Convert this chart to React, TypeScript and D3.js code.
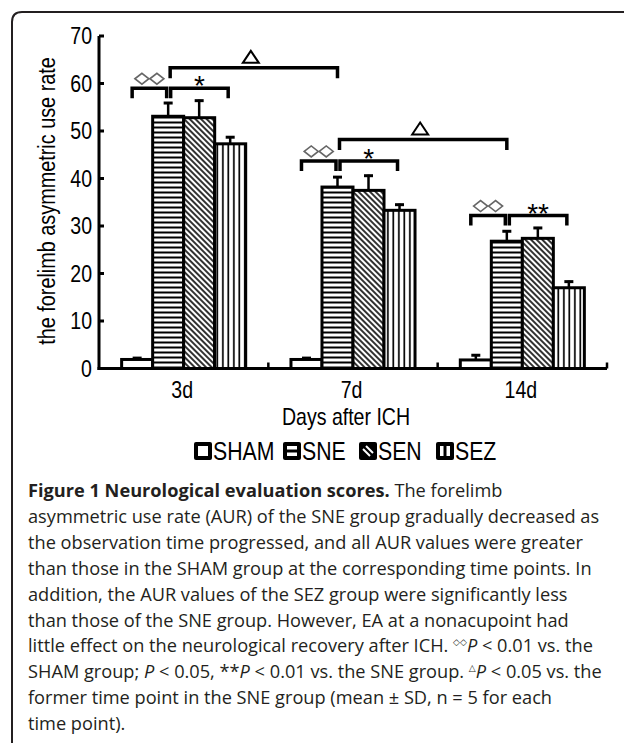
import React, { Component } from 'react';
import * as d3 from 'd3';

// days after ICH
const categories = ['3d', '7d', '14d'];
const groups = ['SHAM', 'SNE', 'SEN', 'SEZ'];

// mean values per group
const shamMean = [1.9, 1.9, 1.8];
const sneMean = [53.1, 38.2, 26.8];
const senMean = [52.8, 37.5, 27.4];
const sezMean = [47.3, 33.3, 17.0];

// SD (upper whiskers)
const shamSd = [0.5, 0.5, 1.2];
const sneSd = [3.0, 2.3, 2.3];
const senSd = [3.8, 3.3, 2.4];
const sezSd = [1.6, 1.4, 1.5];

const yTicks = [0, 10, 20, 30, 40, 50, 60, 70];

// significance brackets: category, level, mark
const diamondBrackets = [
  { cat: '3d', level: 59.0 },
  { cat: '7d', level: 43.7 },
  { cat: '14d', level: 32.2 },
];
const starBrackets = [
  { cat: '3d', level: 59.0, mark: '*' },
  { cat: '7d', level: 43.7, mark: '*' },
  { cat: '14d', level: 32.2, mark: '**' },
];
const deltaBrackets = [
  { from: '3d', to: '7d', level: 63.3 },
  { from: '7d', to: '14d', level: 48.2 },
];

const means = [shamMean, sneMean, senMean, sezMean];
const sds = [shamSd, sneSd, senSd, sezSd];
const fills = ['#fff', 'url(#pHoriz)', 'url(#pDiag)', 'url(#pVert)'];

const W = 624;
const H = 746;
const chartFont = '"Liberation Sans", Arial, sans-serif';
const capFont = '"Open Sans", "Noto Sans", sans-serif';

const x0 = d3.scaleBand().domain(categories).range([99, 607]);
const x1 = d3
  .scaleBand()
  .domain(groups)
  .range([0, x0.bandwidth()])
  .paddingInner(0)
  .paddingOuter(0.73);
const y = d3.scaleLinear().domain([0, 70]).range([368.5, 36]);

const cx = (cat, g) => x0(cat) + x1(g) + x1.bandwidth() / 2;

const bracketPath = (xa, xb, yy, leg) =>
  `M${xa},${yy + leg}V${yy}H${xb}V${yy + leg}`;

class Legend extends Component {
  render() {
    const xs = [194, 283, 359, 436];
    const s = 18;
    const top = 442;
    return (
      <g>
        {groups.map((g, i) => {
          const x = xs[i];
          return (
            <g key={g}>
              <rect x={x} y={top} width={s} height={s} rx={2} fill="#000" />
              {i === 0 && <rect x={x + 4} y={top + 4} width={s - 8} height={s - 8} fill="#fff" />}
              {i === 1 && (
                <g fill="#fff">
                  <rect x={x + 4} y={top + 4} width={s - 8} height={3.5} />
                  <rect x={x + 4} y={top + 10.5} width={s - 8} height={3.5} />
                </g>
              )}
              {i === 2 && (
                <g stroke="#fff" strokeWidth={2}>
                  <line x1={x + 4} y1={top + 7} x2={x + 11} y2={top + 14} />
                  <line x1={x + 7} y1={top + 4} x2={x + 14} y2={top + 11} />
                </g>
              )}
              {i === 3 && (
                <g fill="#fff">
                  <rect x={x + 4} y={top + 4} width={3.5} height={s - 8} />
                  <rect x={x + 10.5} y={top + 4} width={3.5} height={s - 8} />
                </g>
              )}
              <text
                transform={`translate(${x + s + 1},${top + s}) scale(0.85,1)`}
                fontSize={25}
                fontFamily={chartFont}
              >
                {g}
              </text>
            </g>
          );
        })}
      </g>
    );
  }
}

class Caption extends Component {
  render() {
    const top = 497;
    const lh = 25.9;
    const sup = { fontSize: 9, fontFamily: '"DejaVu Sans", sans-serif' };
    const lines = [
      <>
        <tspan fontWeight="bold">Figure 1 Neurological evaluation scores.</tspan> The forelimb
      </>,
      <>asymmetric use rate (AUR) of the SNE group gradually decreased as</>,
      <>the observation time progressed, and all AUR values were greater</>,
      <>than those in the SHAM group at the corresponding time points. In</>,
      <>addition, the AUR values of the SEZ group were significantly less</>,
      <>than those of the SNE group. However, EA at a nonacupoint had</>,
      <>
        little effect on the neurological recovery after ICH.{' '}
        <tspan {...sup} dy={-7}>◇◇</tspan>
        <tspan dy={7} fontStyle="italic">P</tspan> &lt; 0.01 vs. the
      </>,
      <>
        SHAM group; <tspan fontStyle="italic">P</tspan> &lt; 0.05, **<tspan fontStyle="italic">P</tspan> &lt; 0.01 vs. the SNE group.{' '}
        <tspan {...sup} dy={-7}>△</tspan>
        <tspan dy={7} fontStyle="italic">P</tspan> &lt; 0.05 vs. the
      </>,
      <>former time point in the SNE group (mean ± SD, n = 5 for each</>,
      <>time point).</>,
    ];
    return (
      <g fontFamily={capFont} fontSize={18.2} fill="#231f20">
        {lines.map((l, i) => (
          <text key={i} x={28} y={top + i * lh}>
            {l}
          </text>
        ))}
      </g>
    );
  }
}

export default class App extends Component {
  render() {
    const y0 = y(0);
    return (
      <svg
        width={W}
        height={H}
        viewBox={`0 0 ${W} ${H}`}
        style={{ position: 'absolute', left: 0, top: 0, background: '#fff' }}
      >
        <defs>
          <pattern id="pHoriz" patternUnits="userSpaceOnUse" width={10} height={5}>
            <rect width={10} height={5} fill="#fff" />
            <rect y={1.5} width={10} height={2} fill="#000" />
          </pattern>
          <pattern
            id="pDiag"
            patternUnits="userSpaceOnUse"
            width={10}
            height={4}
            patternTransform="rotate(45)"
          >
            <rect width={10} height={4} fill="#fff" />
            <rect y={1.2} width={10} height={1.6} fill="#000" />
          </pattern>
          <pattern id="pVert" patternUnits="userSpaceOnUse" width={5.5} height={10}>
            <rect width={5.5} height={10} fill="#fff" />
            <rect x={2} width={1.7} height={10} fill="#000" />
          </pattern>
        </defs>

        {/* figure frame */}
        <path d="M12,743V22Q12,12 22,12H624" fill="none" stroke="#231f20" strokeWidth={2} />

        {/* bars */}
        {categories.map((cat, ci) => (
          <g key={cat}>
            {groups.map((g, gi) => {
              const v = means[gi][ci];
              return (
                <rect
                  key={g}
                  x={x0(cat) + x1(g)}
                  y={y(v)}
                  width={x1.bandwidth()}
                  height={y0 - y(v)}
                  fill={fills[gi]}
                  stroke="#000"
                  strokeWidth={3}
                />
              );
            })}
            {groups.map((g, gi) => {
              const v = means[gi][ci];
              const t = y(v + sds[gi][ci]);
              const c = cx(cat, g);
              return (
                <g key={g} stroke="#000">
                  <line x1={c} x2={c} y1={y(v)} y2={t} strokeWidth={2.5} />
                  <line x1={c - 4.5} x2={c + 4.5} y1={t + 1} y2={t + 1} strokeWidth={3} />
                </g>
              );
            })}
          </g>
        ))}

        {/* axes */}
        <g stroke="#000">
          <line x1={99} x2={99} y1={y0 + 1.5} y2={y(70)} strokeWidth={3} />
          <line x1={97.5} x2={607} y1={y0} y2={y0} strokeWidth={3} />
          {yTicks.map((t) => (
            <line key={t} x1={99} x2={104} y1={y(t)} y2={y(t)} strokeWidth={3} />
          ))}
          {categories.map((cat) => (
            <line
              key={cat}
              x1={x0(cat) + x0.step()}
              x2={x0(cat) + x0.step()}
              y1={y0}
              y2={y0 - 6}
              strokeWidth={2.5}
            />
          ))}
        </g>
        <g fontFamily={chartFont} fontSize={23} fill="#000">
          {yTicks.map((t) => (
            <text key={t} transform={`translate(92,${y(t) + 8}) scale(0.85,1)`} textAnchor="end">
              {t}
            </text>
          ))}
          {categories.map((cat) => (
            <text
              key={cat}
              transform={`translate(${x0(cat) + x0.bandwidth() / 2 - 1.5},398) scale(0.85,1)`}
              textAnchor="middle"
            >
              {cat}
            </text>
          ))}
          <text transform="translate(346,425) scale(0.85,1)" textAnchor="middle">
            Days after ICH
          </text>
          <text
            transform="translate(55,201) rotate(-90) scale(0.81,1)"
            textAnchor="middle"
            fontSize={24.5}
          >
            the forelimb asymmetric use rate
          </text>
        </g>

        {/* significance marks */}
        <g fill="none" stroke="#000" strokeWidth={3.5}>
          {diamondBrackets.map((b) => (
            <path
              key={b.cat}
              d={bracketPath(cx(b.cat, 'SHAM') - 5, cx(b.cat, 'SNE') - 1.5, y(b.level), 10)}
            />
          ))}
          {starBrackets.map((b) => (
            <path
              key={b.cat}
              d={bracketPath(cx(b.cat, 'SNE') + 2.5, cx(b.cat, 'SEZ') - 2, y(b.level), 10)}
            />
          ))}
          {deltaBrackets.map((b) => (
            <path
              key={b.from}
              d={bracketPath(cx(b.from, 'SNE') + 2, cx(b.to, 'SNE'), y(b.level), 10.5)}
            />
          ))}
        </g>
        {diamondBrackets.map((b) => {
          const mid = (cx(b.cat, 'SHAM') - 5 + cx(b.cat, 'SNE') - 1.5) / 2;
          const cy = y(b.level) - 9.5;
          return (
            <g key={b.cat} fill="#fff" stroke="#666" strokeWidth={1.6}>
              {[-7.5, 7.5].map((dx) => (
                <path
                  key={dx}
                  d={`M${mid + dx - 7},${cy}L${mid + dx},${cy - 5.5}L${mid + dx + 7},${cy}L${mid + dx},${cy + 5.5}Z`}
                />
              ))}
            </g>
          );
        })}
        {starBrackets.map((b) => {
          const mid = (cx(b.cat, 'SNE') + 2.5 + cx(b.cat, 'SEZ') - 2) / 2;
          return (
            <text
              key={b.cat}
              x={mid}
              y={y(b.level) + 7}
              textAnchor="middle"
              fontFamily={chartFont}
              fontSize={28}
            >
              {b.mark}
            </text>
          );
        })}
        {deltaBrackets.map((b) => {
          const mid = (cx(b.from, 'SNE') + 2 + cx(b.to, 'SNE')) / 2 - 3;
          const base = y(b.level) - 5;
          return (
            <path
              key={b.from}
              d={`M${mid - 8},${base}L${mid},${base - 12}L${mid + 8},${base}Z`}
              fill="#fff"
              stroke="#000"
              strokeWidth={2}
            />
          );
        })}

        <Legend />
        <Caption />
      </svg>
    );
  }
}
